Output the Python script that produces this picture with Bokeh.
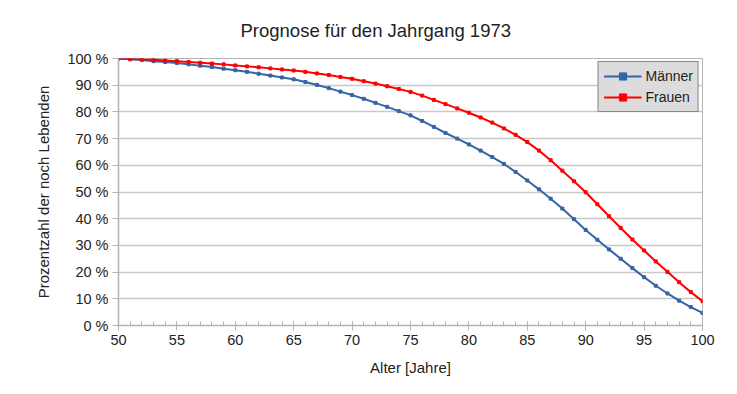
from bokeh.plotting import figure
from bokeh.models import (SingleIntervalTicker, FixedTicker, PrintfTickFormatter,
                          Legend, LegendItem, ColumnDataSource, Range1d)
from bokeh.embed import file_html
from bokeh.resources import INLINE

ages = list(range(50, 101))
maenner = [100.0, 99.7, 99.4, 99.0, 98.7, 98.3, 97.8, 97.3, 96.8, 96.2,
           95.6, 95.0, 94.3, 93.6, 92.9, 92.2, 91.2, 90.1, 88.9, 87.6,
           86.3, 84.9, 83.4, 81.9, 80.3, 78.7, 76.6, 74.4, 72.1, 70.0,
           67.8, 65.5, 63.1, 60.5, 57.5, 54.3, 51.0, 47.5, 43.8, 39.8,
           35.8, 32.1, 28.5, 25.0, 21.5, 18.1, 14.9, 12.0, 9.3, 6.9, 4.7]
frauen = [100.0, 99.85, 99.7, 99.5, 99.25, 99.0, 98.7, 98.4, 98.1, 97.8,
          97.4, 97.05, 96.7, 96.3, 95.9, 95.5, 95.0, 94.4, 93.8, 93.1,
          92.4, 91.5, 90.6, 89.6, 88.6, 87.5, 86.1, 84.5, 82.9, 81.3,
          79.7, 77.9, 76.0, 73.8, 71.4, 68.7, 65.5, 61.9, 58.0, 54.0,
          49.9, 45.4, 40.9, 36.5, 32.2, 28.1, 24.0, 20.1, 16.2, 12.5, 9.1]
y_ticks = list(range(0, 101, 10))
title_text = "Prognose für den Jahrgang 1973"
x_label = "Alter [Jahre]"
y_label = "Prozentzahl der noch Lebenden"
series_names = ["Männer", "Frauen"]
colors = ["#3465a4", "#ff0000"]

FONT = "Liberation Sans"
GRAY = "#b3b3b3"

p = figure(width=721, height=378, output_backend="svg", toolbar_location=None,
           x_range=Range1d(50, 100), y_range=Range1d(0, 100),
           min_border_left=118, min_border_right=19, min_border_top=58,
           min_border_bottom=53)
p.title.text = title_text
p.title.align = "left"
p.title.offset = 122
p.title.standoff = 32
p.title.vertical_align = "top"
p.title.text_font = FONT
p.title.text_font_size = "18.5px"
p.title.text_font_style = "normal"
p.title.text_color = "#222222"

p.outline_line_color = GRAY
p.background_fill_color = "white"

p.xgrid.visible = False
p.ygrid.ticker = FixedTicker(ticks=y_ticks)
p.ygrid.grid_line_color = "#c8c8c8"
p.ygrid.grid_line_width = 1.5

p.xaxis.ticker = SingleIntervalTicker(interval=5, num_minor_ticks=5)
p.yaxis.ticker = FixedTicker(ticks=y_ticks)
p.yaxis.formatter = PrintfTickFormatter(format="%d %%")

for ax in (p.xaxis[0], p.yaxis[0]):
    ax.axis_line_color = GRAY
    ax.axis_line_width = 1.5
    ax.major_tick_line_color = GRAY
    ax.minor_tick_line_color = GRAY
    ax.major_label_text_font = FONT
    ax.major_label_text_font_size = "14.5px"
    ax.major_label_text_color = "#222222"
    ax.axis_label_text_font = FONT
    ax.axis_label_text_font_size = "15px"
    ax.axis_label_text_font_style = "normal"
    ax.axis_label_text_color = "#222222"

p.xaxis.axis_label = x_label
p.xaxis.major_tick_in = 4
p.xaxis.major_tick_out = 5
p.xaxis.minor_tick_in = 4
p.xaxis.minor_tick_out = 0
p.xaxis.major_label_standoff = 4
p.xaxis.axis_label_standoff = 11

p.yaxis.axis_label = y_label
p.yaxis.major_tick_in = 0
p.yaxis.major_tick_out = 6
p.yaxis.minor_tick_line_color = None
p.yaxis.major_label_standoff = 4
p.yaxis.axis_label_standoff = 12

nan = float("nan")
items = []
for name, vals, col in zip(series_names, [maenner, frauen], colors):
    src = ColumnDataSource(dict(x=ages, y=vals))
    lr = p.line("x", "y", source=src, line_color=col, line_width=2)
    p.scatter("x", "y", source=src, marker="square", size=3, color=col)
    dummy = p.scatter(x=[nan], y=[nan], marker="square", size=8, color=col)
    items.append(LegendItem(label=name, renderers=[lr, dummy]))

legend = Legend(items=items, location="top_right")
legend.margin = 3
legend.padding = 5
legend.spacing = 3
legend.glyph_width = 38
legend.glyph_height = 18
legend.label_height = 18
legend.label_standoff = 4
legend.label_text_font = FONT
legend.label_text_font_size = "14px"
legend.label_text_color = "#222222"
legend.background_fill_color = "#dcdcdc"
legend.background_fill_alpha = 1
legend.border_line_color = "#333333"
legend.border_line_width = 1
p.add_layout(legend)

open("out.html", "w").write(file_html(p, INLINE))
